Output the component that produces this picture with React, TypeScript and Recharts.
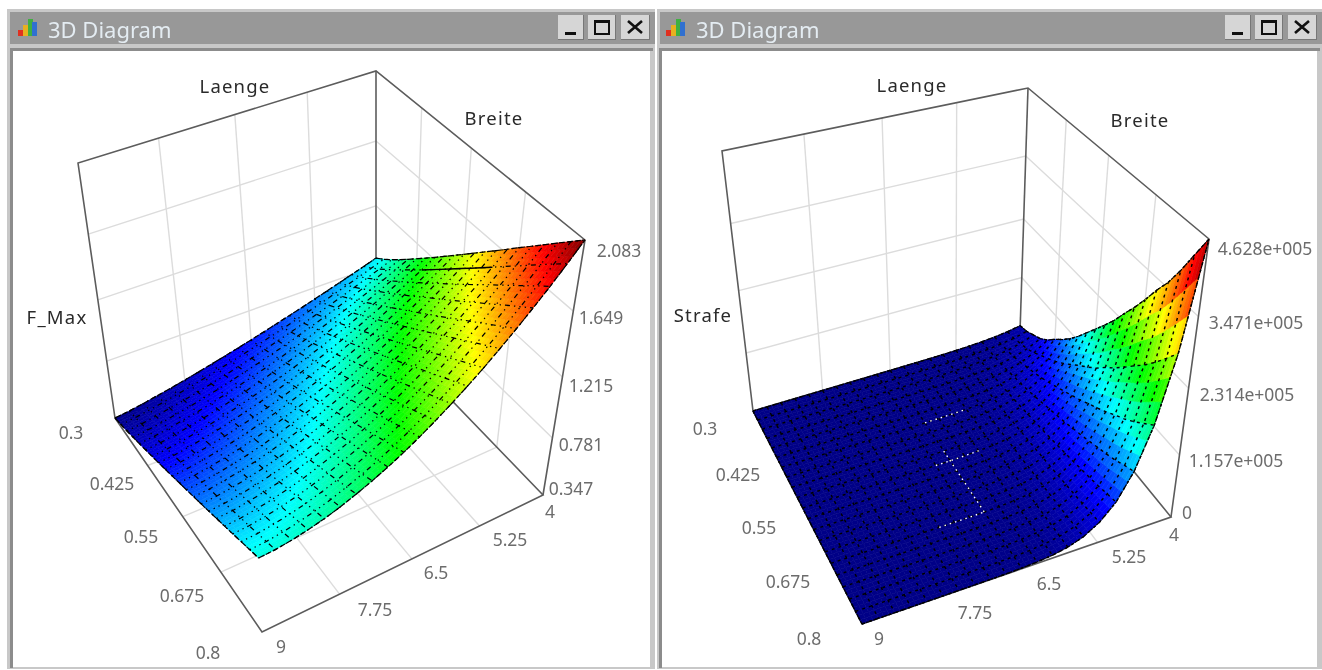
import React from "react";
import { ScatterChart, Scatter, XAxis, YAxis } from "recharts";

// axis values
const breite = [0.3, 0.325, 0.35, 0.375, 0.4, 0.425, 0.45, 0.475, 0.5, 0.525, 0.55, 0.575, 0.6, 0.625, 0.65, 0.675, 0.7, 0.725, 0.75, 0.775, 0.8];
const laenge = [9, 8.75, 8.5, 8.25, 8, 7.75, 7.5, 7.25, 7, 6.75, 6.5, 6.25, 6, 5.75, 5.5, 5.25, 5, 4.75, 4.5, 4.25, 4];
const breiteTicks = [0.3, 0.425, 0.55, 0.675, 0.8];
const laengeTicks = [9, 7.75, 6.5, 5.25, 4];
const breiteTickLabels = ["0.3", "0.425", "0.55", "0.675", "0.8"];
const laengeTickLabels = ["9", "7.75", "6.5", "5.25", "4"];

const fMaxTicks = [0.347, 0.781, 1.215, 1.649, 2.083];
const fMaxTickLabels = ["0.347", "0.781", "1.215", "1.649", "2.083"];
const strafeTicks = [0, 115.7, 231.4, 347.1, 462.8];
const strafeTickLabels = ["0", "1.157e+005", "2.314e+005", "3.471e+005", "4.628e+005"];

// one row per laenge, one column per breite
const fMaxRows = [
  [.347,.367,.391,.416,.441,.468,.494,.522,.549,.577,.606,.634,.663,.692,.721,.751,.78,.81,.841,.871,.901],
  [.36,.38,.403,.428,.453,.479,.505,.532,.559,.587,.615,.643,.671,.70,.729,.758,.787,.816,.846,.876,.906],
  [.378,.398,.421,.445,.47,.496,.522,.549,.576,.603,.631,.659,.687,.715,.744,.773,.802,.831,.861,.89,.92],
  [.398,.418,.441,.465,.49,.516,.542,.569,.596,.623,.651,.679,.707,.735,.764,.793,.822,.851,.881,.91,.94],
  [.418,.438,.461,.486,.511,.537,.564,.591,.618,.646,.674,.702,.73,.759,.788,.817,.847,.876,.906,.936,.966],
  [.44,.461,.484,.509,.535,.562,.588,.616,.644,.672,.701,.729,.758,.787,.817,.847,.876,.906,.937,.967,.998],
  [.463,.484,.508,.534,.561,.588,.616,.644,.673,.702,.731,.76,.79,.82,.85,.881,.912,.943,.974,1.005,1.037],
  [.487,.509,.534,.561,.588,.616,.645,.674,.703,.734,.764,.794,.825,.856,.887,.919,.951,.983,1.015,1.047,1.08],
  [.511,.534,.56,.588,.616,.646,.675,.705,.736,.768,.799,.831,.863,.895,.927,.961,.993,1.027,1.061,1.094,1.128],
  [.536,.56,.587,.616,.646,.677,.708,.739,.771,.804,.837,.87,.904,.937,.971,1.006,1.04,1.075,1.111,1.146,1.181],
  [.561,.586,.615,.645,.676,.709,.742,.775,.809,.843,.878,.913,.948,.983,1.019,1.056,1.092,1.129,1.166,1.203,1.24],
  [.587,.614,.644,.676,.709,.743,.778,.813,.849,.885,.922,.958,.996,1.033,1.071,1.11,1.148,1.186,1.226,1.265,1.304],
  [.614,.642,.674,.708,.743,.779,.816,.853,.891,.93,.968,1.007,1.047,1.086,1.126,1.167,1.208,1.249,1.29,1.331,1.373],
  [.641,.671,.705,.741,.778,.816,.855,.895,.935,.976,1.017,1.058,1.1,1.142,1.184,1.228,1.271,1.314,1.358,1.402,1.446],
  [.668,.70,.736,.774,.813,.854,.895,.937,.98,1.024,1.067,1.111,1.155,1.2,1.245,1.291,1.337,1.383,1.43,1.476,1.523],
  [.696,.73,.768,.809,.851,.894,.938,.983,1.028,1.075,1.121,1.167,1.215,1.262,1.31,1.359,1.408,1.457,1.507,1.556,1.606],
  [.724,.76,.80,.844,.889,.935,.981,1.029,1.077,1.127,1.176,1.225,1.276,1.326,1.377,1.43,1.481,1.533,1.586,1.639,1.692],
  [.753,.791,.834,.881,.928,.978,1.027,1.077,1.129,1.181,1.234,1.287,1.34,1.394,1.448,1.504,1.558,1.614,1.671,1.726,1.783],
  [.781,.822,.868,.917,.967,1.02,1.073,1.127,1.181,1.237,1.293,1.349,1.406,1.463,1.521,1.581,1.639,1.698,1.758,1.818,1.878],
  [.81,.853,.902,.955,1.009,1.065,1.121,1.178,1.237,1.296,1.356,1.416,1.476,1.537,1.599,1.662,1.724,1.787,1.852,1.915,1.979],
  [.84,.886,.938,.994,1.051,1.111,1.171,1.232,1.294,1.357,1.42,1.484,1.549,1.613,1.679,1.746,1.812,1.879,1.947,2.015,2.083],
];

// in thousands
const strafeRows = [
  [0,0,0,0,0,0,0,0,0,0,0,0,0,0,0,0,0,0,0,0,0],
  [0,0,0,0,0,0,0,0,0,0,0,0,0,0,0,0,0,0,0,0,0],
  [0,0,0,0,0,0,0,0,0,0,0,0,0,0,0,0,0,0,0,0,0],
  [0,0,0,0,0,0,0,0,0,0,0,0,0,0,0,0,0,0,0,0,0],
  [0,0,0,0,0,0,0,0,0,0,0,0,0,0,0,0,0,0,0,0,0],
  [0,0,0,0,0,0,0,0,0,0,0,0,0,0,0,0,0,0,0,0,0],
  [0,0,0,0,0,0,0,0,0,0,0,0,0,0,0,0,0,0,0,.1,.1],
  [0,0,0,0,0,0,0,0,0,0,0,0,0,.1,.1,.1,.1,.1,.1,.1,.1],
  [0,0,0,0,0,0,0,0,.1,.1,.1,.1,.1,.1,.1,.1,.1,.1,.1,.2,.2],
  [0,0,0,0,.1,.1,.1,.1,.1,.2,.2,.2,.2,.3,.3,.3,.3,.4,.4,.4,.4],
  [0,.1,.1,.1,.2,.2,.2,.3,.4,.4,.5,.5,.6,.7,.7,.8,.9,.9,1,1,1.1],
  [.1,.1,.2,.3,.4,.5,.6,.7,.8,1,1.1,1.2,1.4,1.5,1.7,1.8,2,2.1,2.2,2.4,2.6],
  [.2,.3,.4,.5,.8,1,1.2,1.5,1.8,2.1,2.4,2.6,2.9,3.2,3.5,3.9,4.2,4.5,4.8,5.1,5.5],
  [.3,.4,.7,.9,1.2,1.6,2,2.5,2.9,3.5,4,4.6,5.1,5.8,6.4,7,7.7,8.4,9.2,10,10.9],
  [.6,.8,1.2,1.7,2.3,3.1,3.8,4.7,5.6,6.7,7.7,8.7,9.8,11,12.2,13.4,14.8,16,17.5,19.1,20.8],
  [1.1,1.5,2.3,3,4.2,5.7,7,8.6,10.3,12.2,14.1,16,17.9,20.1,22.2,24.5,27,29.3,31.9,35,38],
  [2,2.6,4,5.3,7.3,9.9,12.2,14.9,17.9,21.2,24.5,27.8,31.1,35.1,38.7,42.7,47,51,55.6,60.9,66.2],
  [3.4,4.5,6.8,9,12.4,16.9,20.8,25.3,30.4,36,41.6,47.3,52.9,59.6,65.8,72.6,79.9,86.6,94.5,104,112.5],
  [5.6,7.4,11.1,14.8,20.4,27.8,34.2,41.6,50,59.2,68.5,77.7,87,98,108,119,131,142,155,170,185],
  [8.9,11.8,17.8,23.7,32.6,44.4,54.8,66.6,79.9,94.7,110,124,139,157,173,191,210,228,249,272,296],
  [13.9,18.5,27.8,37,50.9,69.4,85.6,104,125,148,171,194,218,245,271,299,329,356,389,426,462.8],
];

// stray redraws of the mesh: [first breite, last breite, first laenge, last laenge]
const fMaxSolidRuns = [[0.475, 0.65, 4.25, 4.25]];
const strafeWhiteRuns = [[0.45, 0.45, 6.5, 5.75], [0.55, 0.55, 6.75, 6], [0.525, 0.675, 6.5, 6.5], [0.675, 0.675, 7.25, 6.5]];

// value -> colour stops of the surface
const colorStops = [0, 0.11, 0.3, 0.47, 0.66, 0.88, 1];
const colorValues = [[0, 0, 135], [0, 0, 255], [0, 255, 255], [0, 255, 0], [255, 255, 0], [255, 0, 0], [128, 0, 0]];

type Pt = { x: number; y: number };
type View = {
  left: number; top: number; width: number; height: number;
  // corners in order: B.3/L9, B.8/L9, B.8/L4, B.3/L4
  floor: Pt[]; roof: Pt[];
  zMin: number; zMax: number; zLabels: string[]; zTicks: number[]; rows: number[][];
  title: string; titlePos: Pt; laengePos: Pt; breitePos: Pt;
  bLabelPos: Pt[]; lLabelPos: Pt[]; zLabelPos: Pt[];
  dash: string; edgeDash: string; meshWidth: number; runs: number[][]; runStyle: any;
};

const P = (x: number, y: number): Pt => ({ x, y });

const leftView: View = {
  left: 13, top: 51, width: 637, height: 616,
  floor: [P(115, 418), P(262, 632), P(543, 495), P(376, 322)],
  roof: [P(78, 163), P(250, 375), P(585, 240), P(376, 71)],
  zMin: 0.347, zMax: 2.083, zTicks: fMaxTicks, zLabels: fMaxTickLabels, rows: fMaxRows,
  title: "F_Max", titlePos: P(57, 316), laengePos: P(235, 85), breitePos: P(494, 117),
  bLabelPos: [P(71, 432), P(112, 483), P(141, 536), P(182, 595), P(208, 652)],
  lLabelPos: [P(281, 646), P(375, 609), P(436, 572), P(510, 539), P(550, 511)],
  zLabelPos: [P(571, 488), P(581, 444), P(591, 385), P(601, 317), P(619, 250)],
  dash: "1.4 4 1.4 4 1.4 4 5 4", edgeDash: "6 2", meshWidth: 1.2,
  runs: fMaxSolidRuns, runStyle: { stroke: "#000", strokeWidth: 1.4 },
};

const rightView: View = {
  left: 662, top: 51, width: 655, height: 616,
  floor: [P(753, 411), P(862, 624), P(1171, 517), P(1020, 332)],
  roof: [P(722, 151), P(841, 338), P(1209, 239), P(1028, 88)],
  zMin: 0, zMax: 462.8, zTicks: strafeTicks, zLabels: strafeTickLabels, rows: strafeRows,
  title: "Strafe", titlePos: P(703, 314), laengePos: P(912, 84), breitePos: P(1140, 119),
  bLabelPos: [P(705, 428), P(738, 474), P(759, 527), P(788, 581), P(809, 638)],
  lLabelPos: [P(879, 638), P(975, 612), P(1049, 583), P(1129, 556), P(1174, 534)],
  zLabelPos: [P(1187, 512), P(1236, 460), P(1247, 394), P(1256, 322), P(1265, 248)],
  dash: "3 4", edgeDash: "3 1", meshWidth: 1.4,
  runs: strafeWhiteRuns, runStyle: { stroke: "#fff", strokeWidth: 1.4, strokeDasharray: "1.5 4" },
};

function homography(q: Pt[]) {
  const [p0, p1, p2, p3] = q;
  const dx1 = p1.x - p2.x, dx2 = p3.x - p2.x, sx = p0.x - p1.x + p2.x - p3.x;
  const dy1 = p1.y - p2.y, dy2 = p3.y - p2.y, sy = p0.y - p1.y + p2.y - p3.y;
  const den = dx1 * dy2 - dx2 * dy1;
  const g = (sx * dy2 - dx2 * sy) / den;
  const h = (dx1 * sy - sx * dy1) / den;
  return (u: number, v: number): Pt => {
    const w = g * u + h * v + 1;
    return {
      x: ((p1.x - p0.x + g * p1.x) * u + (p3.x - p0.x + h * p3.x) * v + p0.x) / w,
      y: ((p1.y - p0.y + g * p1.y) * u + (p3.y - p0.y + h * p3.y) * v + p0.y) / w,
    };
  };
}

function projector(view: View) {
  const floorAt = homography(view.floor);
  const roofAt = homography(view.roof);
  const depth = 1.16; // vertical axis perspective
  return (l: number, b: number, z: number): Pt => {
    const u = (b - 0.3) / 0.5;
    const v = (9 - l) / 5;
    const t = (z - view.zMin) / (view.zMax - view.zMin);
    const s = t / (t + depth * (1 - t));
    const a = floorAt(u, v);
    const c = roofAt(u, v);
    return { x: a.x + (c.x - a.x) * s, y: a.y + (c.y - a.y) * s };
  };
}

function surfaceColor(t: number) {
  let k = 0;
  while (k < colorStops.length - 2 && t > colorStops[k + 1]) k++;
  const f = Math.max(0, Math.min(1, (t - colorStops[k]) / (colorStops[k + 1] - colorStops[k])));
  const [a, b] = [colorValues[k], colorValues[k + 1]];
  return `rgb(${a.map((c, n) => Math.round(c + (b[n] - c) * f)).join(",")})`;
}

const NoDot = () => <g />;

function CellShape(props: any) {
  const { cx, cy, payload } = props;
  const { corners, values, zMin, zMax } = payload;
  const n = 3;
  const bil = (a: number[], s: number, r: number) =>
    a[0] * (1 - s) * (1 - r) + a[1] * s * (1 - r) + a[2] * s * r + a[3] * (1 - s) * r;
  const xs = corners.map((p: Pt) => p.x - payload.x + cx);
  const ys = corners.map((p: Pt) => p.y - payload.y + cy);
  const out = [];
  for (let i = 0; i < n; i++) {
    for (let j = 0; j < n; j++) {
      const quad = [[i, j], [i + 1, j], [i + 1, j + 1], [i, j + 1]]
        .map(([a, b]) => `${bil(xs, a / n, b / n).toFixed(1)},${bil(ys, a / n, b / n).toFixed(1)}`)
        .join(" ");
      const col = surfaceColor((bil(values, (i + 0.5) / n, (j + 0.5) / n) - zMin) / (zMax - zMin));
      out.push(<polygon key={`${i}-${j}`} points={quad} fill={col} stroke={col} strokeWidth={0.6} />);
    }
  }
  return <g>{out}</g>;
}

function LabelShape(props: any) {
  const { cx, cy, payload } = props;
  return (
    <text x={cx} y={cy} textAnchor="middle" dominantBaseline="central" fontFamily="'Noto Sans', sans-serif"
      fontSize={payload.size} letterSpacing={payload.spacing} fill={payload.color}>{payload.text}</text>
  );
}

function Diagram({ view }: { view: View }) {
  const at = projector(view);
  const { zMin, zMax, zTicks, rows } = view;
  const lo = laengeTicks[0], hi = laengeTicks[4], b0 = breiteTicks[0], b1 = breiteTicks[4];

  const grid: Pt[][] = [];
  laengeTicks.slice(1, 4).forEach((l) => {
    grid.push([at(l, b0, zMin), at(l, b0, zMax)]);
    grid.push([at(l, b0, zMin), at(l, b1, zMin)]);
  });
  breiteTicks.slice(1, 4).forEach((b) => {
    grid.push([at(hi, b, zMin), at(hi, b, zMax)]);
    grid.push([at(lo, b, zMin), at(hi, b, zMin)]);
  });
  zTicks.slice(1, 4).forEach((z) => {
    grid.push([at(lo, b0, z), at(hi, b0, z), at(hi, b1, z)]);
  });

  const frame: Pt[][] = [
    [at(lo, b0, zMin), at(lo, b0, zMax), at(hi, b0, zMax), at(hi, b1, zMax), at(hi, b1, zMin)],
    [at(hi, b0, zMax), at(hi, b0, zMin)],
    [at(lo, b0, zMin), at(lo, b1, zMin), at(hi, b1, zMin), at(hi, b0, zMin), at(lo, b0, zMin)],
  ];

  const cells: any[] = [];
  for (let i = 0; i < breite.length - 1; i++) {
    for (let j = laenge.length - 2; j >= 0; j--) {
      const idx = [[i, j], [i + 1, j], [i + 1, j + 1], [i, j + 1]];
      const corners = idx.map(([a, c]) => at(laenge[c], breite[a], rows[c][a]));
      cells.push({
        x: corners[0].x, y: corners[0].y, corners,
        values: idx.map(([a, c]) => rows[c][a]), zMin, zMax,
      });
    }
  }

  const meshLines: Pt[][] = [];
  laenge.forEach((l, c) => meshLines.push(breite.map((b, a) => at(l, b, rows[c][a]))));
  breite.forEach((b, a) => meshLines.push(laenge.map((l, c) => at(l, b, rows[c][a]))));
  const outline: Pt[][] = [meshLines[0], meshLines[20], meshLines[21], meshLines[41]];

  const runs: Pt[][] = view.runs.map(([b0r, b1r, l0r, l1r]) => {
    const pts: Pt[] = [];
    breite.forEach((b, a) => laenge.forEach((l, c) => {
      if (b >= b0r && b <= b1r && l <= Math.max(l0r, l1r) && l >= Math.min(l0r, l1r)) pts.push(at(l, b, rows[c][a]));
    }));
    return pts;
  });

  const labels: any[] = [];
  const tick = "#6c6c6c", head = "#2a2a2a";
  const addTick = (text: string, p: Pt) => labels.push({ ...p, text, color: tick, size: 17.5, spacing: 0 });
  const addHead = (text: string, p: Pt) => labels.push({ ...p, text, color: head, size: 18.5, spacing: 1.2 });
  breiteTickLabels.forEach((text, i) => addTick(text, view.bLabelPos[i]));
  laengeTickLabels.forEach((text, i) => addTick(text, view.lLabelPos[i]));
  view.zLabels.forEach((text, i) => addTick(text, view.zLabelPos[i]));
  addHead("Laenge", view.laengePos);
  addHead("Breite", view.breitePos);
  addHead(view.title, view.titlePos);

  return (
    <div style={{ position: "absolute", left: view.left, top: view.top, background: "#fff" }}>
      <ScatterChart width={view.width} height={view.height} margin={{ top: 0, right: 0, bottom: 0, left: 0 }}>
        <XAxis type="number" dataKey="x" hide domain={[view.left, view.left + view.width]} allowDataOverflow />
        <YAxis type="number" dataKey="y" hide reversed domain={[view.top, view.top + view.height]} allowDataOverflow />
        {grid.map((d, i) => (
          <Scatter key={`g${i}`} data={d} shape={NoDot} isAnimationActive={false}
            line={{ stroke: "#dcdcdc", strokeWidth: 1.4 }} />
        ))}
        {frame.map((d, i) => (
          <Scatter key={`f${i}`} data={d} shape={NoDot} isAnimationActive={false}
            line={{ stroke: "#5c5c5c", strokeWidth: 1.6 }} />
        ))}
        <Scatter data={cells} shape={CellShape} isAnimationActive={false} />
        {meshLines.map((d, i) => (
          <Scatter key={`m${i}`} data={d} shape={NoDot} isAnimationActive={false}
            line={{ stroke: "#000", strokeWidth: view.meshWidth, strokeDasharray: view.dash }} />
        ))}
        {outline.map((d, i) => (
          <Scatter key={`o${i}`} data={d} shape={NoDot} isAnimationActive={false}
            line={{ stroke: "#000", strokeWidth: 1.2, strokeDasharray: view.edgeDash }} />
        ))}
        {runs.map((d, i) => (
          <Scatter key={`r${i}`} data={d} shape={NoDot} isAnimationActive={false} line={view.runStyle} />
        ))}
        <Scatter data={labels} shape={LabelShape} isAnimationActive={false} />
      </ScatterChart>
    </div>
  );
}

function Button({ x, w, kind }: { x: number; w: number; kind: string }) {
  const mark =
    kind === "min" ? <div style={{ position: "absolute", left: 7, top: 17, width: 11, height: 3, background: "#111" }} />
    : kind === "max" ? <div style={{ position: "absolute", left: 6, top: 5, width: 12, height: 10, border: "2px solid #111", borderTopWidth: 3 }} />
    : <svg style={{ position: "absolute", left: 6, top: 5 }} width="16" height="14"><path d="M1 1 L15 13 M15 1 L1 13" stroke="#111" strokeWidth="2.6" /></svg>;
  return (
    <div style={{ position: "absolute", left: x, top: 6, width: w, height: 25, background: "#d6d6d6",
      borderRight: "1px solid #777", borderBottom: "1px solid #777", boxSizing: "border-box" }}>
      {mark}
    </div>
  );
}

function Frame({ x, width, clientLeft, clientWidth, shift }: { x: number; width: number; clientLeft: number; clientWidth: number; shift: number }) {
  const icon = [["#e03020", 0, 13, 6], ["#e8b020", 5, 8, 11], ["#40b040", 10, 2, 17], ["#3070d0", 14, 5, 14]];
  return (
    <div style={{ position: "absolute", left: x, top: 9, width, height: 660, background: "#c8c8c8" }}>
      <div style={{ position: "absolute", left: 3, right: 0, top: 3, height: 32, background: "#989898" }} />
      <div style={{ position: "absolute", left: clientLeft - x - 3, top: 39, width: clientWidth + 3, height: 617,
        borderTop: "3px solid #8c8c8c", borderLeft: "3px solid #8c8c8c", boxSizing: "content-box" }} />
      {icon.map(([c, l, t, h], i) => (
        <div key={i} style={{ position: "absolute", left: 11 + shift + (l as number), top: 8 + (t as number), width: 5, height: h as number, background: c as string }} />
      ))}
      <div style={{ position: "absolute", left: 41 + shift, top: 4, height: 32, lineHeight: "32px", color: "#e4ecf2",
        fontFamily: "'Noto Sans', sans-serif", fontSize: 22 }}>3D Diagram</div>
      <Button x={width - 97} w={26} kind="min" />
      <Button x={width - 67} w={28} kind="max" />
      <Button x={width - 34} w={29} kind="close" />
    </div>
  );
}

export default function App() {
  return (
    <div style={{ position: "absolute", left: 0, top: 0, width: 1322, height: 670, background: "#fff", overflow: "hidden", filter: "blur(0.4px)" }}>
      <Frame x={7} width={648} clientLeft={13} clientWidth={637} shift={0} />
      <Frame x={657} width={665} clientLeft={662} clientWidth={655} shift={-2} />
      <Diagram view={leftView} />
      <Diagram view={rightView} />
    </div>
  );
}
